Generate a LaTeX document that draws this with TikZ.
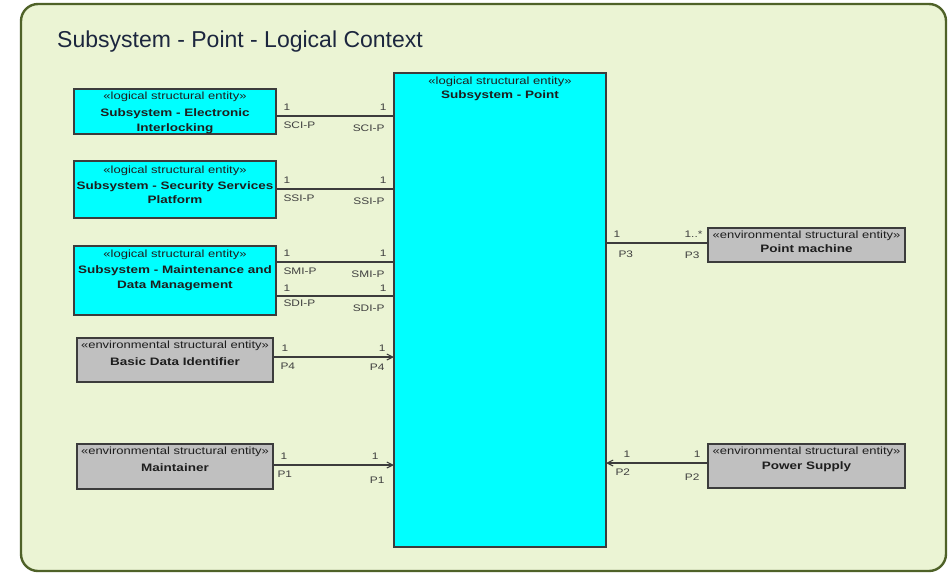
\documentclass[tikz,border=0pt]{standalone}
\usepackage{fontspec}
\setmainfont{Liberation Sans}
\newfontfamily\df[FakeStretch=1.25]{Liberation Sans}
\usetikzlibrary{arrows.meta}
\definecolor{framecol}{RGB}{79,98,40}
\definecolor{bgcol}{RGB}{235,244,212}
\definecolor{cyanfill}{RGB}{0,255,255}
\definecolor{greyfill}{RGB}{192,192,192}
\definecolor{edgecol}{RGB}{60,60,60}
\definecolor{titlecol}{RGB}{28,38,62}
\definecolor{txtcol}{RGB}{30,30,30}
\begin{document}
\begin{tikzpicture}[x=1pt,y=-1pt,
  entbox/.style={draw=edgecol, line width=1.3pt, outer sep=0pt, inner sep=0pt, anchor=north west},
  logbox/.style={entbox, fill=cyanfill},
  envbox/.style={entbox, fill=greyfill},
  stereo/.style={anchor=base, inner sep=0pt, text=txtcol, font=\df\fontsize{10.4}{12}\selectfont},
  ename/.style={anchor=base, inner sep=0pt, text=txtcol, font=\df\fontsize{10.8}{13}\selectfont\bfseries},
  conn/.style={draw=edgecol, line width=1.1pt},
  arr/.style={conn, -{Straight Barb[length=6pt,width=6pt]}},
  lab/.style={inner sep=0pt, text=txtcol!85, font=\df\fontsize{9.5}{11}\selectfont},
  lm/.style={lab, anchor=base west, xshift=#1, yshift=6pt},
  rm/.style={lab, anchor=base east, xshift=-#1, yshift=6pt},
  lr/.style={lab, anchor=base west, xshift=#1, yshift=-12pt},
  rr/.style={lab, anchor=base east, xshift=-#1, yshift=-15pt}
]
\useasboundingbox (0,0) rectangle (948,573);
\fill[white] (0,0) rectangle (948,573);
\draw[framecol, line width=2.4pt, fill=bgcol, rounded corners=17pt] (21,4) rectangle (946,571);
\node[anchor=base west, inner sep=0pt, text=titlecol, font=\fontsize{23}{28}\selectfont] (title) at (57,47) {Subsystem - Point - Logical Context};

% central entity
\node[logbox, minimum width=212pt, minimum height=474pt] (main) at (394,73) {};
\node[stereo] (mains) at ([yshift=-11pt]main.north) {«logical structural entity»};
\node[ename] (mainn) at ([yshift=-25pt]main.north) {Subsystem - Point};

% left logical entities
\node[logbox, minimum width=202pt, minimum height=45pt] (b1) at (74,89) {};
\node[stereo] (b1s) at ([yshift=-10pt]b1.north) {«logical structural entity»};
\node[ename] (b1a) at ([yshift=-27pt]b1.north) {Subsystem - Electronic};
\node[ename] (b1b) at ([yshift=-42pt]b1.north) {Interlocking};

\node[logbox, minimum width=202pt, minimum height=57pt] (b2) at (74,161) {};
\node[stereo] (b2s) at ([yshift=-12pt]b2.north) {«logical structural entity»};
\node[ename] (b2a) at ([yshift=-28pt]b2.north) {Subsystem - Security Services};
\node[ename] (b2b) at ([yshift=-42pt]b2.north) {Platform};

\node[logbox, minimum width=202pt, minimum height=69pt] (b3) at (74,246) {};
\node[stereo] (b3s) at ([yshift=-11pt]b3.north) {«logical structural entity»};
\node[ename] (b3a) at ([yshift=-27pt]b3.north) {Subsystem - Maintenance and};
\node[ename] (b3b) at ([yshift=-42pt]b3.north) {Data Management};

% left environmental entities
\node[envbox, minimum width=196pt, minimum height=44pt] (b4) at (77,338) {};
\node[stereo] (b4s) at ([yshift=-10pt]b4.north) {«environmental structural entity»};
\node[ename] (b4a) at ([yshift=-27pt]b4.north) {Basic Data Identifier};

\node[envbox, minimum width=196pt, minimum height=45pt] (b5) at (77,444) {};
\node[stereo] (b5s) at ([yshift=-10pt]b5.north) {«environmental structural entity»};
\node[ename] (b5a) at ([yshift=-27pt]b5.north) {Maintainer};

% right environmental entities
\node[envbox, minimum width=197pt, minimum height=34pt] (pm) at (708,228) {};
\node[stereo] (pms) at ([yshift=-10pt]pm.north) {«environmental structural entity»};
\node[ename] (pma) at ([yshift=-24pt]pm.north) {Point machine};

\node[envbox, minimum width=197pt, minimum height=44pt] (ps) at (708,444) {};
\node[stereo] (pss) at ([yshift=-10pt]ps.north) {«environmental structural entity»};
\node[ename] (psa) at ([yshift=-25pt]ps.north) {Power Supply};

% connector heights
\coordinate (ySCI) at (0,116);
\coordinate (ySSI) at (0,189);
\coordinate (ySMI) at (0,262);
\coordinate (ySDI) at (0,296);
\coordinate (yP4) at (0,357);
\coordinate (yP1) at (0,465);
\coordinate (yP3) at (0,243);
\coordinate (yP2) at (0,463);

% connectors
\draw[conn] (b1.east |- ySCI) -- (main.west |- ySCI)
  node[pos=0, lm=7pt] (c1a) {1} node[pos=1, rm=7pt] (c1b) {1}
  node[pos=0, lr=7pt] (c1c) {SCI-P} node[pos=1, rr=9pt] (c1d) {SCI-P};
\draw[conn] (b2.east |- ySSI) -- (main.west |- ySSI)
  node[pos=0, lm=7pt] (c2a) {1} node[pos=1, rm=7pt] (c2b) {1}
  node[pos=0, lr=7pt] (c2c) {SSI-P} node[pos=1, rr=9pt] (c2d) {SSI-P};
\draw[conn] (b3.east |- ySMI) -- (main.west |- ySMI)
  node[pos=0, lm=7pt] (c3a) {1} node[pos=1, rm=7pt] (c3b) {1}
  node[pos=0, lr=7pt] (c3c) {SMI-P} node[pos=1, rr=9pt] (c3d) {SMI-P};
\draw[conn] (b3.east |- ySDI) -- (main.west |- ySDI)
  node[pos=0, lm=7pt, yshift=-1pt] (c4a) {1} node[pos=1, rm=7pt, yshift=-1pt] (c4b) {1}
  node[pos=0, lr=7pt, yshift=2pt] (c4c) {SDI-P} node[pos=1, rr=9pt] (c4d) {SDI-P};
\draw[arr] (b4.east |- yP4) -- (main.west |- yP4)
  node[pos=0, lm=8pt] (c5a) {1} node[pos=1, rm=8pt] (c5b) {1}
  node[pos=0, lr=7pt] (c5c) {P4} node[pos=1, rr=9pt, yshift=2pt] (c5d) {P4};
\draw[arr] (b5.east |- yP1) -- (main.west |- yP1)
  node[pos=0, lm=7pt] (c6a) {1} node[pos=1, rm=15pt] (c6b) {1}
  node[pos=0, lr=4pt] (c6c) {P1} node[pos=1, rr=9pt, yshift=-3pt] (c6d) {P1};
\draw[conn] (main.east |- yP3) -- (pm.west |- yP3)
  node[pos=0, lm=7pt] (c7a) {1} node[pos=1, rm=5pt] (c7b) {1..*}
  node[pos=0, lr=12pt, yshift=-2pt] (c7c) {P3} node[pos=1, rr=8pt] (c7d) {P3};
\draw[arr] (ps.west |- yP2) -- (main.east |- yP2)
  node[pos=0, rm=7pt] (c8a) {1} node[pos=1, lm=17pt] (c8b) {1}
  node[pos=0, rr=8pt, yshift=-2pt] (c8c) {P2} node[pos=1, lr=9pt] (c8d) {P2};
\end{tikzpicture}
\end{document}
